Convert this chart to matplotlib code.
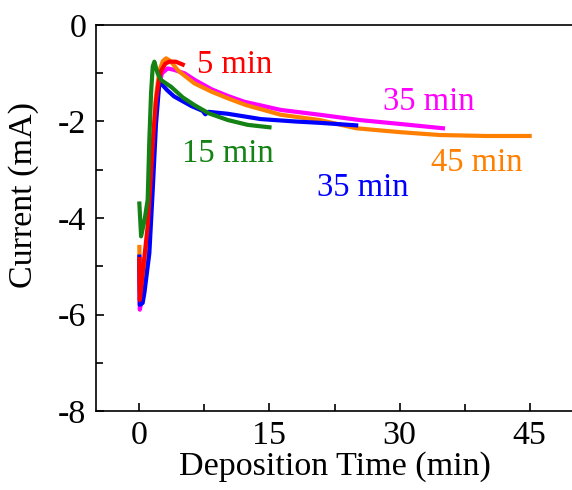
import matplotlib
matplotlib.use("Agg")
import matplotlib.pyplot as plt
from matplotlib.ticker import MultipleLocator

plt.rcParams['font.family'] = ['Liberation Serif', 'DejaVu Serif']

# ---- data ----
t_magenta = [0, 0.05, 0.4, 0.9, 1.4, 1.8, 2.2, 2.6, 3.27, 4.0, 5.2, 6.5, 8.3, 10.2, 12.1, 16.3, 20.8, 25.4, 30, 35]
i_magenta = [-5.0, -5.9, -5.6, -4.8, -3.4, -2.0, -1.3, -1.0, -0.9, -0.93, -1.0, -1.15, -1.33, -1.47, -1.59, -1.76, -1.86, -1.97, -2.05, -2.14]

t_orange = [0, 0.05, 0.5, 1.0, 1.5, 1.9, 2.3, 2.7, 3.08, 3.6, 4.5, 6.35, 8.3, 10.2, 12.3, 16.3, 20.8, 25, 30, 34.6, 40, 45]
i_orange = [-4.6, -5.5, -5.2, -4.3, -2.8, -1.5, -0.95, -0.75, -0.69, -0.75, -0.95, -1.21, -1.38, -1.52, -1.66, -1.86, -1.97, -2.14, -2.22, -2.28, -2.3, -2.3]

t_blue = [0, 0.05, 0.38, 0.58, 1.15, 1.54, 1.92, 2.3, 2.7, 3.2, 4.0, 5, 6, 7.3, 7.6, 8, 10.2, 14, 18, 21, 25]
i_blue = [-4.8, -5.8, -5.76, -5.55, -4.73, -3.42, -2.04, -1.21, -1.25, -1.35, -1.48, -1.58, -1.68, -1.78, -1.85, -1.8, -1.84, -1.95, -2.0, -2.03, -2.08]

t_red = [0, 0.05, 0.38, 0.96, 1.3, 1.6, 1.9, 2.2, 2.5, 3.0, 3.46, 4.2, 5]
i_red = [-4.85, -5.7, -5.14, -4.17, -3.2, -2.3, -1.6, -1.2, -0.95, -0.8, -0.76, -0.76, -0.82]

t_green = [0, 0.2, 0.6, 0.96, 1.15, 1.35, 1.54, 1.73, 2.1, 2.5, 3.65, 5, 6.35, 8, 10.2, 12.5, 15]
i_green = [-3.7, -4.38, -4.04, -3.62, -2.38, -1.41, -0.86, -0.76, -1.0, -1.14, -1.28, -1.5, -1.66, -1.83, -1.97, -2.07, -2.12]

labels = ["5 min", "15 min", "35 min", "45 min", "35 min"]
label_x = [6.7, 4.9, 28.1, 33.65, 20.5]
label_y = [-0.99, -2.83, -1.77, -3.02, -3.55]

xticks = [0, 15, 30, 45]
yticks = [0, -2, -4, -6, -8]

# ---- figure ----
fig = plt.figure(figsize=(5.72, 4.90), dpi=100)
ax = fig.add_axes([96/572, 79/490, 477/572, 386/490])

lw = 3.0
ax.plot(t_magenta, i_magenta, color='#ff00ff', lw=lw)
ax.plot(t_orange, i_orange, color='#ff8000', lw=lw)
ax.plot(t_blue, i_blue, color='#0000ff', lw=lw)
ax.plot(t_red, i_red, color='#ff0000', lw=lw)
ax.plot(t_green, i_green, color='#148214', lw=lw)

colors = ['#ff0000', '#148214', '#ff00ff', '#ff8000', '#0000ff']
for s, x, y, c in zip(labels, label_x, label_y, colors):
    ax.text(x, y, s, color=c, fontsize=23.5, va='baseline', ha='left')

ax.set_xlim(-5, 50)
ax.set_ylim(-8, 0)
ax.set_xticks(xticks)
ax.set_yticks(yticks)
ax.set_yticklabels([str(v) for v in yticks])
ax.xaxis.set_minor_locator(MultipleLocator(7.5))
ax.yaxis.set_minor_locator(MultipleLocator(1))

ax.tick_params(which='both', direction='in', top=False, right=False, width=1.2)
ax.tick_params(which='major', length=6, labelsize=24.5, pad=7)
ax.tick_params(which='minor', length=5)
for sp in ax.spines.values():
    sp.set_linewidth(1.2)
ax.spines['right'].set_visible(False)

ax.set_xlabel("Deposition Time (min)", fontsize=24.5, labelpad=0)
ax.set_ylabel("Current (mA)", fontsize=24.5)
ax.yaxis.set_label_coords(-0.12, 0.56)

fig.savefig("out.png", dpi=100)
